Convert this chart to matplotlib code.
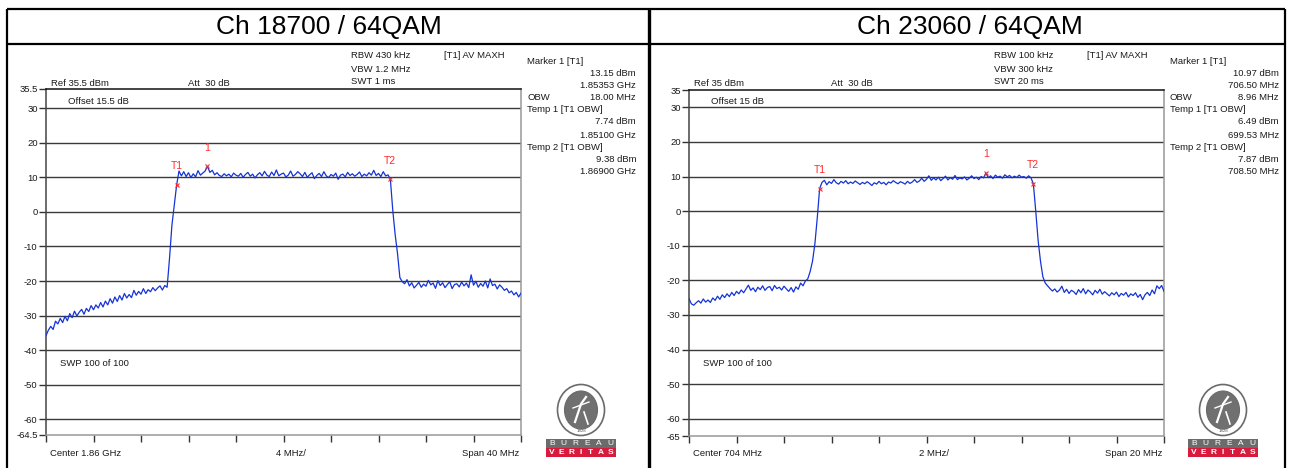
import numpy as np
import matplotlib
matplotlib.use("Agg")
import matplotlib.pyplot as plt
from matplotlib.patches import Ellipse, Rectangle

plt.rcParams['font.family'] = ['Liberation Sans', 'DejaVu Sans']

W, H = 1290, 468

# ---------------- Ch 18700: center 1.86 GHz, span 40 MHz ----------------
ch1_title = "Ch 18700 / 64QAM"
ch1_center = 1860.0        # MHz
ch1_span = 40.0            # MHz
ch1_ylim = (-64.5, 35.5)
ch1_yticks = [35.5, 30, 20, 10, 0, -10, -20, -30, -40, -50, -60, -64.5]
ch1_level = [
    -35.8, -34.2, -33.1, -34.0, -31.6, -32.4, -30.8, -32.0, -30.2, -31.5,
    -29.4, -30.6, -28.7, -30.1, -29.0, -28.2, -29.6, -27.9, -28.8, -27.1,
    -28.3, -26.9, -27.8, -26.2, -27.5, -25.8, -26.9, -25.1, -26.4, -24.6,
    -25.9, -24.2, -25.5, -23.6, -24.9, -23.9, -24.8, -22.7, -24.1, -23.0,
    -23.8, -22.2, -23.6, -22.5, -23.1, -21.9, -22.8, -22.0, -21.4, -22.6,
    -21.3, -21.8, -13.5, -4.0, 2.0, 7.74, 11.8, 10.4, 11.6, 10.2,
    11.3, 9.9, 11.0, 10.1, 11.9, 10.6, 11.2, 11.8, 13.15, 11.4,
    12.0, 10.7, 11.3, 10.5, 10.2, 11.0, 10.4, 10.9, 10.1, 11.2,
    10.6, 10.3, 11.1, 10.0, 10.8, 11.4, 10.3, 10.9, 9.8, 10.7,
    11.3, 10.4, 11.7, 10.6, 10.2, 11.5, 10.5, 12.1, 10.4, 10.9,
    11.2, 10.1, 10.6, 11.8, 10.3, 10.8, 11.6, 11.0, 10.2, 11.4,
    10.0, 10.7, 11.3, 9.6, 10.5, 11.1, 10.2, 11.6, 10.4, 9.9,
    10.8, 10.3, 11.2, 9.4, 10.6, 10.9, 10.1, 11.4, 10.5, 11.0,
    10.3, 10.8, 11.5, 10.2, 10.9, 10.4, 11.3, 10.6, 12.0, 10.5,
    11.1, 10.2, 11.6, 10.4, 10.7, 9.38, 0.5, -6.5, -12.0, -19.0,
    -20.2, -20.8, -19.6, -21.4, -20.5, -22.0, -21.2, -20.4, -21.8, -20.9,
    -21.5, -19.8, -21.1, -20.6, -22.1, -19.9, -21.3, -20.5, -21.9, -21.0,
    -20.2, -22.2, -21.0, -20.8, -21.7, -20.3, -21.4, -20.6, -21.9, -18.2,
    -21.2, -20.1, -21.8, -20.7, -21.5, -20.0, -22.0, -19.4, -21.3, -20.9,
    -22.3, -21.1, -21.8, -22.7, -22.2, -23.4, -22.9, -24.0, -23.3, -24.6,
    -23.5,
]
ch1_marker_names = ["1", "T1", "T2"]
ch1_marker_freq = [1853.53, 1851.00, 1869.00]   # MHz
ch1_marker_level = [13.15, 7.74, 9.38]          # dBm
ch1_obw = "18.00 MHz"
ch1_setup = ["RBW 430 kHz", "VBW 1.2 MHz", "SWT 1 ms"]
ch1_ref = "Ref 35.5 dBm"
ch1_offset = "Offset 15.5 dB"
ch1_center_txt = "Center 1.86 GHz"
ch1_div_txt = "4 MHz/"
ch1_span_txt = "Span 40 MHz"

# ---------------- Ch 23060: center 704 MHz, span 20 MHz ----------------
ch2_title = "Ch 23060 / 64QAM"
ch2_center = 704.0
ch2_span = 20.0
ch2_ylim = (-65, 35)
ch2_yticks = [35, 30, 20, 10, 0, -10, -20, -30, -40, -50, -60, -65]
ch2_level = [
    -25.3, -26.8, -27.2, -26.5, -25.9, -26.6, -25.4, -26.3, -25.7, -26.4,
    -25.1, -25.8, -24.6, -25.5, -24.2, -25.0, -23.9, -24.7, -23.5, -24.4,
    -23.2, -23.9, -22.8, -23.6, -22.5, -21.4, -22.9, -22.2, -23.3, -22.0,
    -22.7, -21.6, -22.9, -22.1, -21.8, -23.0, -21.5, -22.4, -22.0, -22.8,
    -21.7, -22.5, -23.2, -22.1, -23.4, -21.9, -22.6, -20.8, -21.6, -20.2,
    -19.6, -17.5, -14.5, -9.5, -2.0, 6.49, 8.3, 8.9, 7.6, 8.5,
    8.0, 9.1, 8.2, 7.8, 8.6, 8.1, 8.8, 7.9, 8.4, 8.0,
    8.7, 8.2, 7.7, 8.3, 7.9, 8.5, 8.0, 7.4, 8.2, 7.8,
    8.6, 7.9, 8.3, 7.6, 8.4, 8.1, 8.8, 8.3, 7.9, 8.5,
    8.2, 7.8, 8.6, 8.0, 8.4, 9.1, 8.3, 8.7, 9.5, 8.6,
    9.2, 10.2, 8.9, 9.6, 9.0, 9.8, 8.8, 9.4, 10.1, 9.0,
    9.7, 9.2, 10.3, 9.1, 9.6, 9.3, 9.9, 9.0, 9.5, 10.2,
    9.4, 9.8, 9.1, 10.0, 9.6, 10.97, 9.7, 10.2, 9.4, 10.4,
    9.8, 10.1, 9.5, 10.5, 9.9, 10.3, 9.6, 10.1, 9.7, 10.4,
    9.8, 10.0, 9.5, 10.2, 9.6, 7.87, 0.0, -8.5, -14.5, -19.0,
    -20.8, -21.6, -22.4, -23.1, -22.5, -23.4, -22.8, -21.7, -23.5, -22.6,
    -23.8, -22.9, -23.3, -24.1, -22.7, -23.6, -22.4, -23.9, -22.8, -23.4,
    -24.2, -22.9, -23.7, -22.6, -24.0, -23.3, -23.9, -24.5, -23.6, -24.2,
    -23.4, -24.7, -23.8, -24.3, -23.5, -24.8, -23.9, -24.4, -23.6, -24.9,
    -24.1, -25.6, -24.2, -23.5, -24.4, -22.8, -23.9, -21.6, -22.4, -21.5,
    -23.2,
]
ch2_marker_names = ["1", "T1", "T2"]
ch2_marker_freq = [706.50, 699.53, 708.50]
ch2_marker_level = [10.97, 6.49, 7.87]
ch2_obw = "8.96 MHz"
ch2_setup = ["RBW 100 kHz", "VBW 300 kHz", "SWT 20 ms"]
ch2_ref = "Ref 35 dBm"
ch2_offset = "Offset 15 dB"
ch2_center_txt = "Center 704 MHz"
ch2_div_txt = "2 MHz/"
ch2_span_txt = "Span 20 MHz"

TXT = '#1a1a1a'
TRACE = '#1533d6'
MRK = '#ff2a2a'

fig = plt.figure(figsize=(W / 100, H / 100), dpi=100)


def add_panel(x0, y0, x1, y1, center, span, level, ylim, yticks,
              names, mfreq, mlevel):
    ax = fig.add_axes([x0 / W, 1 - y1 / H, (x1 - x0) / W, (y1 - y0) / H])
    ax.patch.set_alpha(0)
    freq = np.linspace(-span / 2, span / 2, len(level))
    for v in yticks[1:-1]:
        ax.axhline(v, color='#3a3a3a', lw=1.0, zorder=1)
    ax.plot(freq, level, color=TRACE, lw=0.9, zorder=3)
    for n, f, v in zip(names, mfreq, mlevel):
        ax.plot(f - center, v, 'x', color=MRK, ms=3.5, mew=0.8, zorder=4)
        ax.annotate(n, (f - center, v), xytext=(0, 13.5), textcoords='offset points',
                    ha='center', va='center', color=MRK, fontsize=7.5)
    ax.set_xlim(-span / 2, span / 2)
    ax.set_ylim(*ylim)
    ax.set_xticks(np.linspace(-span / 2, span / 2, 11))
    ax.set_yticks(yticks)
    ax.set_yticklabels([f"{v:g}" for v in yticks])
    ax.tick_params(axis='x', direction='out', length=5, width=1.0,
                   colors='#333333', labelbottom=False)
    ax.tick_params(axis='y', direction='out', length=5, width=1.0, pad=1,
                   colors='#333333', labelsize=6.8, labelcolor=TXT)
    ax.spines['top'].set_color('#111111')
    ax.spines['left'].set_color('#444444')
    ax.spines['right'].set_color('#999999')
    ax.spines['bottom'].set_color('#999999')
    for s in ax.spines.values():
        s.set_linewidth(1.1)
    return ax


add_panel(46, 89, 521, 435, ch1_center, ch1_span, ch1_level, ch1_ylim, ch1_yticks,
          ch1_marker_names, ch1_marker_freq, ch1_marker_level)
add_panel(689, 90, 1164, 436, ch2_center, ch2_span, ch2_level, ch2_ylim, ch2_yticks,
          ch2_marker_names, ch2_marker_freq, ch2_marker_level)

# overlay in pixel coordinates for frame, header and readouts
bg = fig.add_axes([0, 0, 1, 1])
bg.set_xlim(0, W)
bg.set_ylim(H, 0)
bg.axis('off')
bg.patch.set_alpha(0)

for xs, ys in [((7, 1285), (9, 9)), ((7, 1285), (44, 44)),
               ((7, 7), (9, 468)), ((649, 649), (9, 468)), ((1285, 1285), (9, 468))]:
    bg.plot(xs, ys, color='black', lw=1.6 if xs[0] != 649 else 2.4,
            solid_capstyle='butt')

bg.text(329, 27, ch1_title, fontsize=19, ha='center', va='center', color='black')
bg.text(970, 27, ch2_title, fontsize=19, ha='center', va='center', color='black')


def label(x, y, s, ha='left', **kw):
    bg.text(x, y, s, fontsize=6.8, color=TXT, ha=ha, va='center', **kw)


def readouts(dx, setup, ref, offset, ctr_txt, div_txt, span_txt, mfreq, mlevel, obw,
             fmt_freq):
    label(51 + dx, 84, ref)
    label(188 + dx, 84, "Att  30 dB")
    label(68 + dx, 101, offset)
    label(60 + dx, 363, "SWP 100 of 100")
    for k, s in enumerate(setup):
        label(351 + dx, 56 + 13 * k, s)
    label(444 + dx, 56, "[T1] AV MAXH")
    label(527 + dx, 62, "Marker 1 [T1]")
    label(636 + dx, 73, f"{mlevel[0]:.2f} dBm", ha='right')
    label(636 + dx, 85, fmt_freq(mfreq[0]), ha='right')
    label(527 + dx, 98, "OBW")
    label(636 + dx, 98, obw, ha='right')
    label(527 + dx, 110, "Temp 1 [T1 OBW]")
    label(636 + dx, 122, f"{mlevel[1]:.2f} dBm", ha='right')
    label(636 + dx, 135, fmt_freq(mfreq[1]), ha='right')
    label(527 + dx, 148, "Temp 2 [T1 OBW]")
    label(636 + dx, 159, f"{mlevel[2]:.2f} dBm", ha='right')
    label(636 + dx, 172, fmt_freq(mfreq[2]), ha='right')
    label(50 + dx, 454, ctr_txt)
    label(276 + dx, 454, div_txt)
    label(519 + dx, 454, span_txt, ha='right')


readouts(0, ch1_setup, ch1_ref, ch1_offset, ch1_center_txt, ch1_div_txt, ch1_span_txt,
         ch1_marker_freq, ch1_marker_level, ch1_obw, lambda f: f"{f / 1000:.5f} GHz")
readouts(643, ch2_setup, ch2_ref, ch2_offset, ch2_center_txt, ch2_div_txt, ch2_span_txt,
         ch2_marker_freq, ch2_marker_level, ch2_obw, lambda f: f"{f:.2f} MHz")


def logo(cx, x0):
    # seal
    bg.add_patch(Ellipse((cx, 410), 47, 51, facecolor='white', edgecolor='#6a6a6a', lw=1.2))
    bg.add_patch(Ellipse((cx, 410), 33, 38, facecolor='#707070', edgecolor='#6a6a6a', lw=0.8))
    bg.plot([cx - 6, cx, cx + 5], [422, 404, 397], color='white', lw=1.6)
    bg.plot([cx - 8, cx + 8], [408, 402], color='white', lw=1.0)
    bg.plot([cx + 3, cx + 7], [412, 424], color='white', lw=1.2)
    bg.text(cx, 431, "1828", fontsize=3.2, color='#555555', ha='center', va='center')
    # name plates
    bg.add_patch(Rectangle((x0, 439), 70, 9, facecolor='#6b6b6b', edgecolor='none'))
    bg.add_patch(Rectangle((x0, 448), 70, 9, facecolor='#d81b3c', edgecolor='none'))
    for k, ch in enumerate("BUREAU"):
        bg.text(x0 + 6 + k * 11.6, 443.8, ch, fontsize=6, color='white',
                ha='center', va='center')
    for k, ch in enumerate("VERITAS"):
        bg.text(x0 + 6 + k * 9.7, 452.8, ch, fontsize=6, color='white',
                ha='center', va='center', fontweight='bold')


logo(581, 546)
logo(1223, 1188)

fig.savefig('out.png', dpi=100)
